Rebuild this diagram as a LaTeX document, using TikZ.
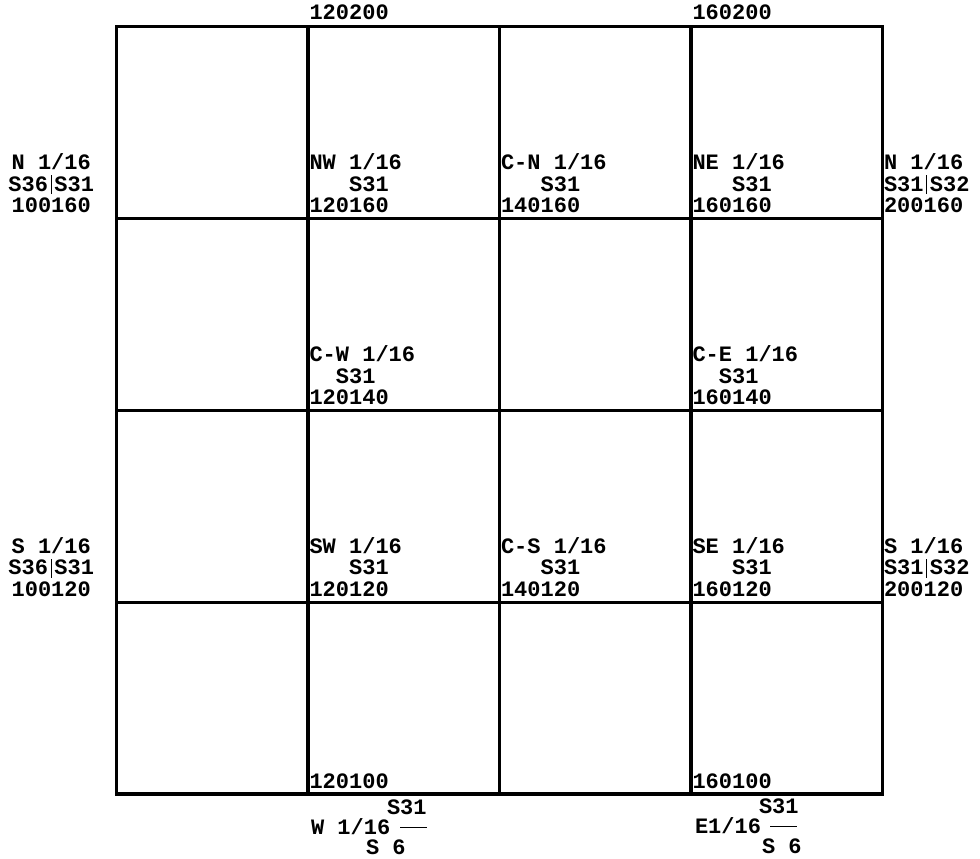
\documentclass[tikz,border=0pt]{standalone}
\usepackage{fontspec}
\setmonofont{Liberation Mono}
\newcommand\lblk[3]{\vbox{\baselineskip=21.3pt\lineskiplimit=-50pt\hbox{#1}\hbox{#2}\hbox{#3}}}
\newcommand\clblk[3]{\vbox{\baselineskip=21.3pt\lineskiplimit=-50pt\halign{\hfil##\hfil\cr #1\cr #2\cr #3\cr}}}
\newcommand\vbarx{\kern2.5pt\rule[-3pt]{1.3pt}{19pt}\kern2.5pt}
\newcommand\spc[1]{\hphantom{#1}}
\tikzset{
  lab/.style={inner sep=0pt, outer sep=0pt, anchor=base west, font=\ttfamily\bfseries\fontsize{22}{21.3}\selectfont},
  gridline/.style={line width=3.2pt, draw=black},
  fracbar/.style={line width=1.2pt, draw=black}
}
\begin{document}
\begin{tikzpicture}[x=1pt,y=-1pt]
\useasboundingbox (0,0) rectangle (980,859);
% grid
\draw[gridline] (116.5,26.7) rectangle (882.5,793.9);
\foreach \gx in {308,499.5,691} \draw[gridline] (\gx,26.7) -- (\gx,793.9);
\foreach \gy in {218.5,410.3,602.1} \draw[gridline] (116.5,\gy) -- (882.5,\gy);
% top labels
\node[lab] (t1) at (309.5,20) {120200};
\node[lab] (t2) at (692.5,20) {160200};
% cell blocks
\node[lab] (nw) at (309.5,212.5) {\lblk{NW 1/16}{\spc{000}S31}{120160}};
\node[lab] (cn) at (501,212.5) {\lblk{C-N 1/16}{\spc{000}S31}{140160}};
\node[lab] (ne) at (692.5,212.5) {\lblk{NE 1/16}{\spc{000}S31}{160160}};
\node[lab] (cw) at (309.5,404.3) {\lblk{C-W 1/16}{\spc{00}S31}{120140}};
\node[lab] (ce) at (692.5,404.3) {\lblk{C-E 1/16}{\spc{00}S31}{160140}};
\node[lab] (sw) at (309.5,596.1) {\lblk{SW 1/16}{\spc{000}S31}{120120}};
\node[lab] (cs) at (501,596.1) {\lblk{C-S 1/16}{\spc{000}S31}{140120}};
\node[lab] (se) at (692.5,596.1) {\lblk{SE 1/16}{\spc{000}S31}{160120}};
% right side
\node[lab] (rn) at (884,212.5) {\lblk{N 1/16}{S31\vbarx S32}{200160}};
\node[lab] (rs) at (884,596.1) {\lblk{S 1/16}{S31\vbarx S32}{200120}};
% left side
\node[lab, anchor=base east] (ln) at (94,212.5) {\clblk{N 1/16}{S36\vbarx S31}{100160}};
\node[lab, anchor=base east] (ls) at (94,596.1) {\clblk{S 1/16}{S36\vbarx S31}{100120}};
% bottom row labels
\node[lab] (b1) at (309.5,788.3) {120100};
\node[lab] (b2) at (692.5,788.3) {160100};
% W 1/16 fraction
\node[lab] (wn) at (387,814.5) {S31};
\node[lab] (ww) at (311,834.5) {W 1/16};
\node[lab] (ws) at (366,854.5) {S 6};
\coordinate (wb1) at (400,827.5);
\coordinate (wb2) at (427,827.5);
\draw[fracbar] (wb1) -- (wb2);
% E1/16 fraction
\node[lab] (en) at (759,813.5) {S31};
\node[lab] (ee) at (695,833.5) {E1/16};
\node[lab] (es) at (762,853.5) {S 6};
\coordinate (eb1) at (770,826.5);
\coordinate (eb2) at (797,826.5);
\draw[fracbar] (eb1) -- (eb2);
\end{tikzpicture}
\end{document}
